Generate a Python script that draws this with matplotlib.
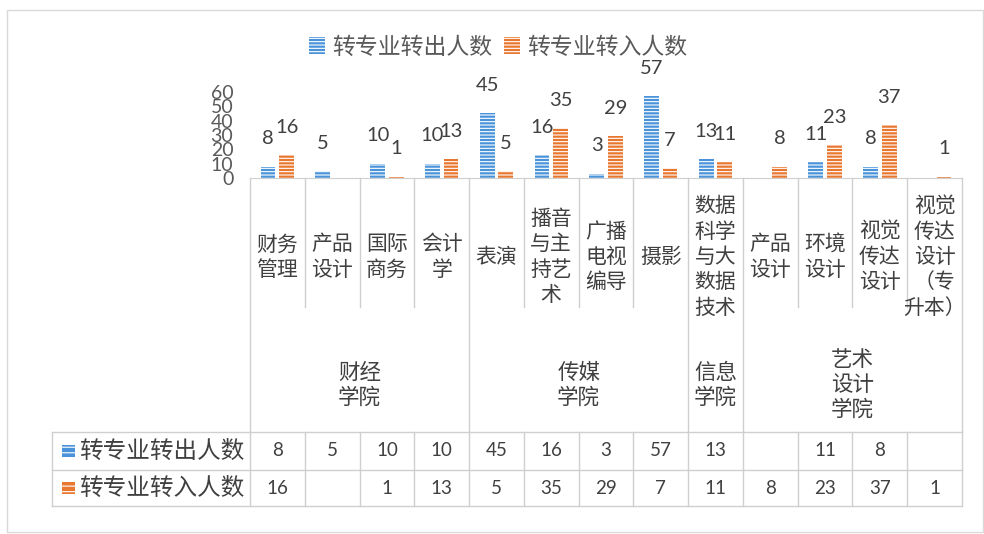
import matplotlib
matplotlib.use("Agg")
import matplotlib.pyplot as plt
from matplotlib import transforms
from matplotlib.patches import Rectangle
import numpy as np

# ---------------- data ----------------
categories = ["财务管理", "产品设计", "国际商务", "会计学", "表演", "播音与主持艺术",
              "广播电视编导", "摄影", "数据科学与大数据技术", "产品设计", "环境设计",
              "视觉传达设计", "视觉传达设计（专升本）"]
groups = ["财经学院", "传媒学院", "信息学院", "艺术设计学院"]
group_sizes = [4, 4, 1, 4]
series_names = ["转专业转出人数", "转专业转入人数"]
out_values = [8, 5, 10, 10, 45, 16, 3, 57, 13, None, 11, 8, None]
in_values = [16, None, 1, 13, 5, 35, 29, 7, 11, 8, 23, 37, 1]
yticks = [0, 10, 20, 30, 40, 50, 60]

BLUE = "#4A93DA"
ORANGE = "#E8772F"
GRID = "#cfcfcf"
TXT = "#404040"
CJK = ["Noto Sans CJK SC", "DejaVu Sans"]
NUM = ["Lato", "DejaVu Sans"]

plt.rcParams['hatch.linewidth'] = 0.8

W, H = 984, 534
fig = plt.figure(figsize=(W / 100, H / 100), dpi=100)

# overlay axes in pixel coordinates (layout only)
ov = fig.add_axes([0, 0, 1, 1])
ov.set_xlim(0, W)
ov.set_ylim(H, 0)
ov.axis("off")

# bar axes
x_left, x_right = 250, 962
y_base, y_top = 178, 92
ax = fig.add_axes([x_left / W, 1 - y_base / H, (x_right - x_left) / W, (y_base - y_top) / H])
n = len(categories)
x = np.arange(n)
ax.set_xlim(-0.5, n - 0.5)
ax.set_ylim(0, 60)
for s in ["top", "right", "left"]:
    ax.spines[s].set_visible(False)
ax.spines["bottom"].set_color(GRID)
ax.set_xticks([])
ax.set_yticks(yticks)
ax.tick_params(axis="y", length=0, pad=12, labelsize=14, labelcolor="#595959")
for lab in ax.get_yticklabels():
    lab.set_fontfamily(NUM)
ax.patch.set_alpha(0)

bw = 0.27
off = 0.17
ov_vals = np.array([np.nan if v is None else v for v in out_values], dtype=float)
in_vals = np.array([np.nan if v is None else v for v in in_values], dtype=float)
b1 = ax.bar(x - off, np.nan_to_num(ov_vals), bw, color=BLUE, edgecolor="white",
            linewidth=0, hatch="-----", label=series_names[0])
b2 = ax.bar(x + off, np.nan_to_num(in_vals), bw, color=ORANGE, edgecolor="white",
            linewidth=0, hatch="-----", label=series_names[1])

for xs, vals in [(x - off, out_values), (x + off, in_values)]:
    for xi, v in zip(xs, vals):
        if v is None:
            continue
        ax.annotate(str(v), (xi, v), xytext=(0, 20), textcoords="offset points",
                    ha="center", va="center", fontsize=14.5, color=TXT,
                    family=NUM, clip_on=False, annotation_clip=False)

# legend
leg = fig.legend(handles=[b1, b2], labels=series_names, loc="center",
                 bbox_to_anchor=(498 / W, 1 - 47 / H), ncol=2, frameon=False,
                 prop={"family": CJK, "size": 16.5}, handlelength=0.7, handleheight=0.7,
                 handletextpad=0.3, columnspacing=0.5, labelcolor="#595959")

# ---------------- category / table layout ----------------
bt = transforms.blended_transform_factory(ax.transData, ov.transData)
cat_line_bottom = 307
table_top, table_mid, table_bot = 432, 470, 506
header_left = 52

def wrap2(s):
    parts = [s[i:i + 2] for i in range(0, len(s), 2)]
    if len(parts) > 1 and parts[-1] in ("）", ")"):
        parts[-2] += parts[-1]
        parts.pop()
    return "\n".join(parts)

lk = dict(color=GRID, lw=1.0, clip_on=False)
# group boundaries
bounds = np.concatenate([[0], np.cumsum(group_sizes)]) - 0.5
for i in range(n + 1):
    xb = i - 0.5
    if xb in bounds:
        ov.plot([xb, xb], [y_base, table_bot], transform=bt, **lk)
    else:
        ov.plot([xb, xb], [y_base, cat_line_bottom], transform=bt, **lk)
        ov.plot([xb, xb], [table_top, table_bot], transform=bt, **lk)

# category labels
for i, c in enumerate(categories):
    ov.text(i, 257, wrap2(c), transform=bt, ha="center", va="center",
            fontsize=15, family=CJK, color=TXT, linespacing=1.2)

# group labels
start = 0
for g, sz in zip(groups, group_sizes):
    cx = start + (sz - 1) / 2
    ov.text(cx, 385, wrap2(g), transform=bt, ha="center", va="center",
            fontsize=15.5, family=CJK, color=TXT, linespacing=1.15)
    start += sz

# table horizontal lines
ov.plot([header_left, x_right], [table_top, table_top], **lk)
ov.plot([header_left, x_right], [table_mid, table_mid], **lk)
ov.plot([header_left, x_right], [table_bot, table_bot], **lk)
ov.plot([header_left, header_left], [table_top, table_bot], **lk)

row_y = [(table_top + table_mid) / 2, (table_mid + table_bot) / 2]
for ry, name, col, vals in zip(row_y, series_names, [BLUE, ORANGE], [out_values, in_values]):
    ov.add_patch(Rectangle((62, ry - 6), 13, 12, facecolor=col, edgecolor="white",
                           linewidth=0, hatch="---"))
    ov.text(79, ry, name, ha="left", va="center", fontsize=17, family=CJK, color=TXT)
    for i, v in enumerate(vals):
        if v is None:
            continue
        ov.text(i, ry, str(v), transform=bt, ha="center", va="center",
                fontsize=13.5, family=NUM, color=TXT)

# chart border
ov.add_patch(Rectangle((7, 10), 976, 522, facecolor="none", edgecolor="#d9d9d9", lw=1))

fig.savefig("out.png", dpi=100)
